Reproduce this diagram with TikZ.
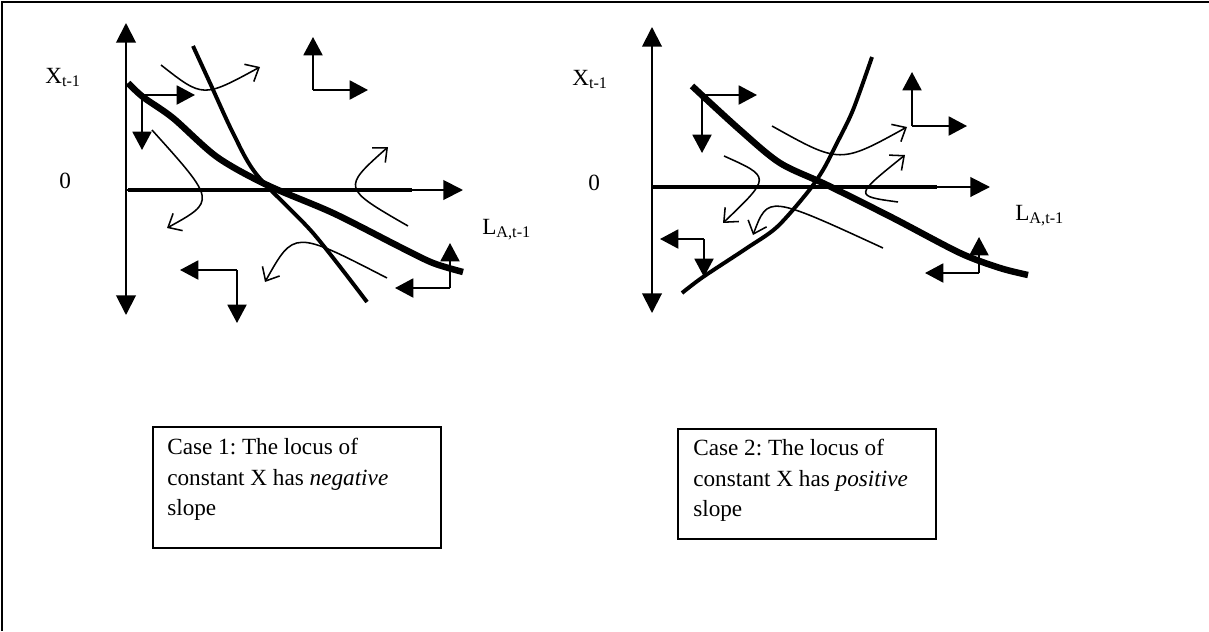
\documentclass[tikz,border=0pt]{standalone}
\usepackage{fontspec}
\setmainfont{Liberation Serif}
\usetikzlibrary{arrows.meta}
\frenchspacing

\begin{document}
\begin{tikzpicture}[x=0.025cm,y=-0.025cm,
  axisline/.style={line width=1.4pt},
  axistip/.style={-{Triangle[length=14pt,width=14pt]}},
  bothtips/.style={{Triangle[length=14pt,width=14pt]}-{Triangle[length=14pt,width=14pt]}},
  flowarrow/.style={line width=1.4pt,-{Triangle[length=13pt,width=13.5pt]}},
  locusthick/.style={line width=4.6pt,line join=round},
  locusthin/.style={line width=2.8pt},
  swirl/.style={line width=1.1pt,-{Straight Barb[length=8pt,width=14pt]}},
  lbl/.style={font=\fontsize{16.5}{21.7}\selectfont,inner sep=0pt},
  capbox/.style={draw,line width=1.4pt,inner sep=0pt}]
  \useasboundingbox (0,0) rectangle (1209,631);
  \draw[line width=2.1pt] (2,631) -- (2,2) -- (1209,2);

  % Case 1
  \draw[axisline,bothtips] (126,315) -- (126,23);
  \draw[axisline,axistip] (126,190) -- (463,190);
  \draw[locusthin] (128,190) -- (412,190);
  \draw[locusthick] plot[smooth] coordinates {(128,83) (143,97) (173,118) (217,157) (267,185) (333,213) (400,247) (433,263) (463,272)};
  \draw[locusthin] plot[smooth] coordinates {(193,46) (210,83) (233,133) (257,175) (313,233) (367,302)};
  \draw[flowarrow] (142,95) -- (195,95); \draw[flowarrow] (142,95) -- (142,150);
  \draw[flowarrow] (313,90) -- (313,37); \draw[flowarrow] (313,90) -- (368,90);
  \draw[flowarrow] (237,270) -- (180,270); \draw[flowarrow] (237,270) -- (237,323);
  \draw[flowarrow] (450,288) -- (395,288); \draw[flowarrow] (450,288) -- (450,243);
  \draw[swirl] (161,65) .. controls (203,98) .. (260,67);
  \draw[swirl] (152,130) .. controls (216,201) .. (167,228);
  \draw[swirl] (408,226) .. controls (342,188) .. (388,147);
  \draw[swirl] (387,278) .. controls (294,230) .. (265,282);
  \node[lbl,anchor=base west] (xlabA) at (45,83) {X\textsubscript{t-1}};
  \node[lbl,anchor=base west] (zeroA) at (59,188) {0};
  \node[lbl,anchor=base west] (llabA) at (482,234) {L\textsubscript{A,t-1}};

  % Case 2
  \draw[axisline,bothtips] (652,313) -- (652,27);
  \draw[axisline,axistip] (652,187) -- (990,187);
  \draw[locusthin] (652,187) -- (937,187);
  \draw[locusthick] plot[smooth] coordinates {(692,86) (740,130) (780,163) (827,185) (893,218) (960,253) (1000,268) (1028,275)};
  \draw[locusthin] plot[smooth] coordinates {(682,293) (703,277) (747,248) (777,227) (807,193) (823,170) (837,143) (853,110) (872,57)};
  \draw[flowarrow] (702,95) -- (757,95); \draw[flowarrow] (702,95) -- (702,153);
  \draw[flowarrow] (912,126) -- (912,72); \draw[flowarrow] (912,126) -- (967,126);
  \draw[flowarrow] (704,239) -- (660,239); \draw[flowarrow] (704,239) -- (704,277);
  \draw[flowarrow] (979,273) -- (925,273); \draw[flowarrow] (979,273) -- (979,237);
  \draw[swirl] (772,126) .. controls (840,164) .. (907,127);
  \draw[swirl] (724,156) .. controls (771,177) .. (723,223);
  \draw[swirl] (898,202) .. controls (854,196) .. (905,155);
  \draw[swirl] (883,248) .. controls (768,195) .. (753,235);
  \node[lbl,anchor=base west] (xlabB) at (572,85) {X\textsubscript{t-1}};
  \node[lbl,anchor=base west] (zeroB) at (588,190) {0};
  \node[lbl,anchor=base west] (llabB) at (1015,220) {L\textsubscript{A,t-1}};

  % captions
  \node[capbox,anchor=north west,minimum width=288*0.711pt,minimum height=121*0.711pt] (boxA) at (152,426) {};
  \node[lbl,anchor=north west,align=left] (capA) at (167,438) {Case 1: The locus of\\constant X has \textit{negative}\\slope};
  \node[capbox,anchor=north west,minimum width=258*0.711pt,minimum height=110*0.711pt] (boxB) at (677,428) {};
  \node[lbl,anchor=north west,align=left] (capB) at (693,439) {Case 2: The locus of\\constant X has \textit{positive}\\slope};
\end{tikzpicture}
\end{document}
